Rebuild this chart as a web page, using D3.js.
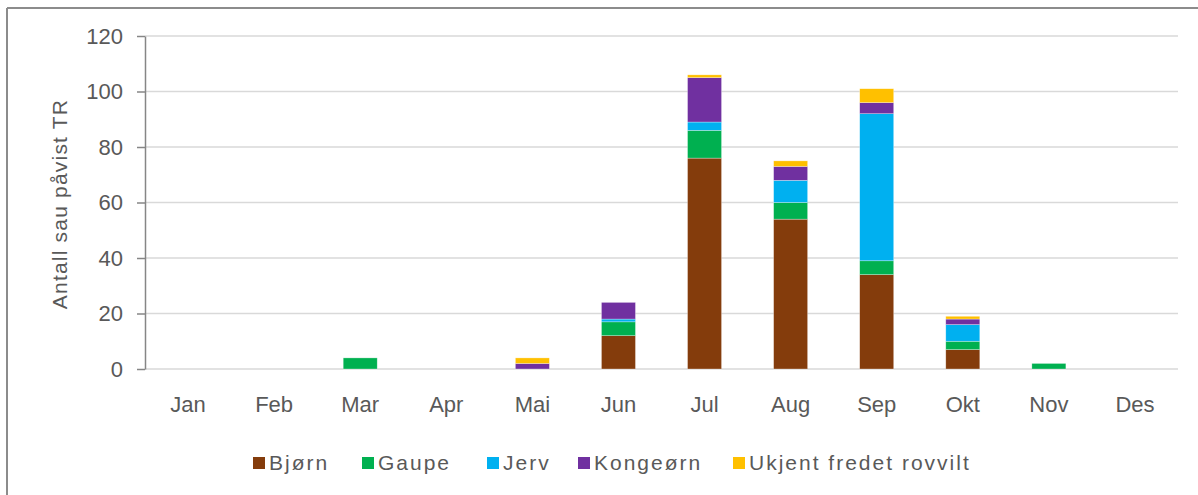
<!DOCTYPE html>
<html>
<head>
<meta charset="utf-8">
<script src="https://cdn.jsdelivr.net/npm/d3@7"></script>
<style>
  body { margin: 0; background: #fff; }
  text { font-family: "Liberation Sans", Arial, sans-serif; }
</style>
</head>
<body>
<div id="container"></div>
<script>
let w = 1198;
let h = 495;

// data
let months = ["Jan", "Feb", "Mar", "Apr", "Mai", "Jun", "Jul", "Aug", "Sep", "Okt", "Nov", "Des"];
let seriesNames = ["Bjørn", "Gaupe", "Jerv", "Kongeørn", "Ukjent fredet rovvilt"];
let bjorn    = [0, 0, 0, 0, 0, 12, 76, 54, 34, 7, 0, 0];
let gaupe    = [0, 0, 4, 0, 0, 5, 10, 6, 5, 3, 2, 0];
let jerv     = [0, 0, 0, 0, 0, 1, 3, 8, 53, 6, 0, 0];
let kongeorn = [0, 0, 0, 0, 2, 6, 16, 5, 4, 2, 0, 0];
let ukjent   = [0, 0, 0, 0, 2, 0, 1, 2, 5, 1, 0, 0];
let yTicks = [0, 20, 40, 60, 80, 100, 120];

let colors = ["#843c0c", "#00b050", "#00b0f0", "#7030a0", "#ffc000"];

let viz = d3.select("#container")
  .append("svg")
    .attr("width", w)
    .attr("height", h)
;

// frame of the chart area (top and left edges show)
viz.append("line").attr("x1", 7).attr("x2", w).attr("y1", 8).attr("y2", 8)
  .attr("stroke", "#8c8c8c").attr("stroke-width", 2);
viz.append("line").attr("x1", 7).attr("x2", 7).attr("y1", 8).attr("y2", h)
  .attr("stroke", "#8c8c8c").attr("stroke-width", 2);

// table for the stack
let table = months.map(function(m, i){
  return {month: m, "Bjørn": bjorn[i], "Gaupe": gaupe[i], "Jerv": jerv[i],
          "Kongeørn": kongeorn[i], "Ukjent fredet rovvilt": ukjent[i]};
});
let stacked = d3.stack().keys(seriesNames)(table);

let xScale = d3.scaleBand().domain(months).range([145, 1178]).paddingInner(0.605).paddingOuter(0.3025);
let yScale = d3.scaleLinear().domain([0, 120]).range([369, 36]);

// gridlines
viz.append("g").selectAll("line").data(yTicks).enter()
  .append("line")
    .attr("x1", 145)
    .attr("x2", 1178)
    .attr("y1", function(d){ return yScale(d); })
    .attr("y2", function(d){ return yScale(d); })
    .attr("stroke", "#d9d9d9")
    .attr("stroke-width", 1.5)
;

// y axis
let yAxis = d3.axisLeft(yScale).tickValues(yTicks).tickSize(8).tickSizeOuter(0).tickPadding(14);
let yG = viz.append("g").attr("transform", "translate(145,0)").call(yAxis);
yG.select(".domain").attr("stroke", "#868686").attr("stroke-width", 1.5);
yG.selectAll(".tick line").attr("stroke", "#868686").attr("stroke-width", 1.5);
yG.selectAll(".tick text")
  .attr("fill", "#595959")
  .style("font-size", "22px")
  .style("font-family", "Liberation Sans, Arial, sans-serif");

// x axis labels
let xAxis = d3.axisBottom(xScale).tickSize(0).tickPadding(27);
let xG = viz.append("g").attr("transform", "translate(0,369)").call(xAxis);
xG.select(".domain").remove();
xG.selectAll(".tick text")
  .attr("fill", "#595959")
  .style("font-size", "22px")
  .style("font-family", "Liberation Sans, Arial, sans-serif");

// bars
let layers = viz.selectAll(".layer").data(stacked).enter()
  .append("g")
    .attr("class", "layer")
    .attr("fill", function(d, i){ return colors[i]; })
;
layers.selectAll("rect").data(function(d){ return d.filter(function(s){ return s[1] > s[0]; }); }).enter()
  .append("rect")
    .attr("x", function(d){ return xScale(d.data.month); })
    .attr("y", function(d){ return yScale(d[1]); })
    .attr("width", xScale.bandwidth())
    .attr("height", function(d){ return yScale(d[0]) - yScale(d[1]); })
    .attr("stroke", "#ffffff")
    .attr("stroke-opacity", 0.5)
    .attr("stroke-width", 0.6)
;

// y title
viz.append("text")
  .text("Antall sau påvist TR")
  .attr("transform", "translate(67,204) rotate(-90)")
  .attr("text-anchor", "middle")
  .attr("fill", "#595959")
  .style("font-size", "21px")
  .style("letter-spacing", "1.2px")
;

// legend
let legendX = [253, 362, 487, 578, 733];
let legend = viz.selectAll(".legend").data(seriesNames).enter()
  .append("g")
    .attr("class", "legend")
    .attr("transform", function(d, i){ return "translate(" + legendX[i] + ",457)"; })
;
legend.append("rect")
  .attr("width", 12)
  .attr("height", 12)
  .attr("fill", function(d, i){ return colors[i]; });
legend.append("text")
  .text(function(d){ return d; })
  .attr("x", 16)
  .attr("y", 13)
  .attr("fill", "#595959")
  .style("font-size", "21px")
  .style("letter-spacing", "2px")
;
</script>
</body>
</html>
